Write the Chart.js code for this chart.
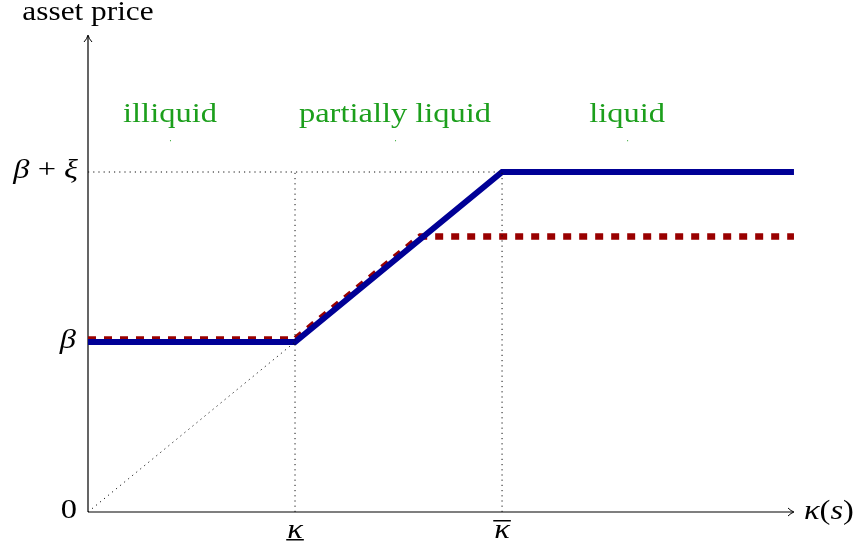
<!DOCTYPE html>
<html>
<head>
<meta charset="utf-8">
<script src="https://cdn.jsdelivr.net/npm/chart.js@4"></script>
<style>
  html, body { margin: 0; padding: 0; background: #fff; }
  #wrap { width: 857px; height: 546px; }
</style>
</head>
<body>
<div id="wrap"><canvas id="prices"></canvas></div>
<script>
// asset price against kappa(s): liquid / partially liquid / illiquid regimes

const kinkX = [0, 1, 2, 3.41];          // 0, kappa low, kappa bar, end
const bluePrice = [1, 1, 2, 2];         // beta ... beta + xi
const redX = [0, 1, 1.605, 3.41];
const redPrice = [1.015, 1.015, 1.62, 1.62];

const yTickValues = [0, 1, 2];
const yTickLabels = ['0', 'β', 'β + ξ'];
const xTickValues = [1, 2];
const xTickLabels = ['κ', 'κ'];         // under- and overlined

const regimeNames = ['illiquid', 'partially liquid', 'liquid'];
const regimeX = [0.396, 1.483, 2.604];
const regimeY = 2.34;

const GREEN = '#1c9f1c';
const SERIF = '"Liberation Serif", "DejaVu Serif", serif';
const STRETCH = 1.16;   // latex fonts run wider than Liberation

function pts(xs, ys) {
	return xs.map((x, i) => ({ x: x, y: ys[i] }));
}

// text pieces [string, italic] drawn with a horizontal stretch
function drawMath(ctx, parts, x, y, align, size) {
	ctx.save();
	ctx.textAlign = 'left';
	let total = 0;
	const widths = parts.map(p => {
		ctx.font = (p[1] ? 'italic ' : '') + size + 'px ' + SERIF;
		const w = ctx.measureText(p[0]).width;
		total += w;
		return w;
	});
	ctx.translate(x, y);
	ctx.scale(STRETCH, 1);
	let cx = align === 'right' ? -total : align === 'center' ? -total / 2 : 0;
	parts.forEach((p, i) => {
		ctx.font = (p[1] ? 'italic ' : '') + size + 'px ' + SERIF;
		ctx.fillText(p[0], cx, 0);
		cx += widths[i];
	});
	ctx.restore();
	return total * STRETCH;
}

const guide = {
	borderColor: '#111',
	borderWidth: 1,
	borderDash: [1.2, 4],
	pointRadius: 0,
	showLine: true,
	fill: false
};

// axes with arrows, tick labels and region names
const decorations = {
	id: 'decorations',
	beforeDatasetsDraw(chart) {
		const ctx = chart.ctx;
		const a = chart.chartArea;
		const x0 = chart.scales.x.getPixelForValue(0);
		const y0 = chart.scales.y.getPixelForValue(0);
		ctx.save();
		ctx.strokeStyle = '#000';
		ctx.lineWidth = 1.2;
		ctx.beginPath();
		ctx.moveTo(x0, y0);
		ctx.lineTo(a.right - 2, y0);
		ctx.moveTo(x0, y0);
		ctx.lineTo(x0, a.top + 1);
		ctx.stroke();
		// arrow heads
		ctx.lineWidth = 1;
		ctx.beginPath();
		ctx.moveTo(a.right - 7, y0 - 4);
		ctx.quadraticCurveTo(a.right - 4, y0 - 1, a.right - 1, y0);
		ctx.quadraticCurveTo(a.right - 4, y0 + 1, a.right - 7, y0 + 4);
		ctx.moveTo(x0 - 4, a.top + 7);
		ctx.quadraticCurveTo(x0 - 1, a.top + 4, x0, a.top);
		ctx.quadraticCurveTo(x0 + 1, a.top + 4, x0 + 4, a.top + 7);
		ctx.stroke();
		ctx.restore();
	},
	afterDraw(chart) {
		const ctx = chart.ctx;
		const sx = chart.scales.x;
		const sy = chart.scales.y;
		const a = chart.chartArea;
		const x0 = sx.getPixelForValue(0);
		const y0 = sy.getPixelForValue(0);
		ctx.save();
		ctx.fillStyle = '#000';
		ctx.textBaseline = 'middle';

		// y tick labels
		yTickValues.forEach((v, i) => {
			const y = sy.getPixelForValue(v) - 1;
			const lab = yTickLabels[i];
			if (lab === '0') {
				drawMath(ctx, [['0', false]], x0 - 11, y, 'right', 28);
			} else if (lab === 'β') {
				drawMath(ctx, [['β', true]], x0 - 12, y, 'right', 28);
			} else {
				drawMath(ctx, [['β', true], [' + ', false], ['ξ', true]], x0 - 10, y, 'right', 28);
			}
		});

		// x tick labels
		xTickValues.forEach((v, i) => {
			const x = sx.getPixelForValue(v);
			const w = drawMath(ctx, [[xTickLabels[i], true]], x, y0 + 19, 'center', 28);
			ctx.fillRect(x - w / 2 - 1, i === 0 ? y0 + 27 : y0 + 8, w + 2, 1.5);
		});

		// axis titles
		drawMath(ctx, [['κ', true], ['(', false], ['s', true], [')', false]], a.right + 9, y0, 'left', 28);
		drawMath(ctx, [['asset price', false]], x0, 13, 'center', 27);

		// regime names
		ctx.fillStyle = GREEN;
		regimeNames.forEach((name, i) => {
			const x = sx.getPixelForValue(regimeX[i]);
			const y = sy.getPixelForValue(regimeY);
			drawMath(ctx, [[name, false]], x, y, 'center', 28);
			ctx.fillRect(x, y + 26, 1, 1);
		});
		ctx.restore();
	}
};

new Chart(document.getElementById('prices'), {
	type: 'scatter',
	data: {
		datasets: [
			{ ...guide, data: pts([0, 2], [2, 2]) },
			{ ...guide, data: pts([1, 1], [0, 2]) },
			{ ...guide, data: pts([2, 2], [0, 2]) },
			{ ...guide, data: pts([0, 1], [0, 1]) },
			{
				data: pts(kinkX, bluePrice),
				showLine: true,
				borderColor: '#000096',
				borderWidth: 6,
				borderJoinStyle: 'miter',
				borderCapStyle: 'butt',
				pointRadius: 0,
				fill: false
			},
			{
				data: pts(redX, redPrice),
				showLine: true,
				borderColor: '#990000',
				borderWidth: 6.5,
				borderDash: [8, 8],
				borderJoinStyle: 'miter',
				borderCapStyle: 'butt',
				pointRadius: 0,
				fill: false
			}
		]
	},
	options: {
		responsive: true,
		maintainAspectRatio: false,
		animation: false,
		clip: false,
		layout: { padding: { left: 88, right: 62, top: 35, bottom: 34 } },
		plugins: {
			legend: { display: false },
			tooltip: { enabled: false }
		},
		scales: {
			x: { type: 'linear', min: 0, max: 3.415, display: false },
			y: { type: 'linear', min: 0, max: 2.806, display: false }
		}
	},
	plugins: [decorations]
});
</script>
</body>
</html>
